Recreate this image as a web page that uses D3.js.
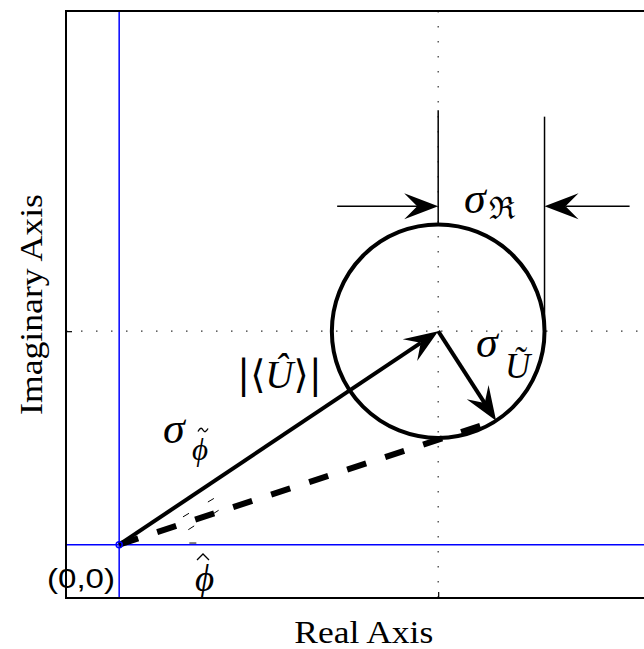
<!DOCTYPE html>
<html><head><meta charset="utf-8">
<script src="https://cdn.jsdelivr.net/npm/d3@7"></script>
<style>body{margin:0;background:#fff}</style>
</head><body>
<svg id="c" width="644" height="649"></svg>
<script>
// ---- data (in axis units) ----
const xDomain = [-0.5, 5.1];
const yDomain = [-0.5, 5];
const xTicks = [3];
const yTicks = [2];
const origin = [0, 0];
const meanU = [3, 2];
const sigmaRadius = 1;
const sigmaAngleDeg = -57;
const refLineX = [3, 4];
const refLineTop = [4.07, 4.01];
const refLineBottom = [3.0, 2.0];
const dimArrowY = 3.17;
const dimArrowFrom = [2.05, 4.8];
const dimArrowTo = [3, 4];
const guideLines = [
  [[0.60, 0.26], [0.97, 0.48]],
  [[0.65, 0.14], [0.995, 0.36]],
  [[0.66, 0.015], [0.74, 0.015]]
];
const xLabel = "Real Axis";
const yLabel = "Imaginary Axis";
const originLabel = "(0,0)";

// ---- scales ----
const L = 66, R = 661.5, T = 11, B = 598;
const x = d3.scaleLinear().domain(xDomain).range([L, R]);
const y = d3.scaleLinear().domain(yDomain).range([B, T]);
const P = p => [x(p[0]), y(p[1])];

const svg = d3.select("#c");
const serif = "'Liberation Serif','DejaVu Serif',serif";
const dserif = "'DejaVu Serif',serif";

svg.append("defs").append("clipPath").attr("id", "clip")
  .append("rect").attr("x", L).attr("y", T).attr("width", R - L).attr("height", B - T);
const g = svg.append("g").attr("clip-path", "url(#clip)");

// dotted grid
g.selectAll(".gx").data(xTicks).join("line")
  .attr("x1", d => x(d)).attr("x2", d => x(d)).attr("y1", T).attr("y2", B)
  .attr("stroke", "#333").attr("stroke-width", 1.2).attr("stroke-dasharray", "1.5,13.5");
g.selectAll(".gy").data(yTicks).join("line")
  .attr("y1", d => y(d)).attr("y2", d => y(d)).attr("x1", L).attr("x2", R)
  .attr("stroke", "#333").attr("stroke-width", 1.2).attr("stroke-dasharray", "1.5,13.5");

// blue axes through origin
g.append("line").attr("x1", x(origin[0])).attr("x2", x(origin[0])).attr("y1", T).attr("y2", B)
  .attr("stroke", "#0000ff").attr("stroke-width", 1.5);
g.append("line").attr("y1", y(origin[1])).attr("y2", y(origin[1])).attr("x1", L).attr("x2", R)
  .attr("stroke", "#0000ff").attr("stroke-width", 1.5);

// ticks via axes
svg.append("g").attr("transform", `translate(0,${B})`)
  .call(d3.axisBottom(x).tickValues(xTicks).tickSize(-6).tickFormat(""))
  .call(a => a.select(".domain").remove())
  .selectAll("line").attr("stroke", "#000").attr("stroke-width", 1.2);
svg.append("g").attr("transform", `translate(${L},0)`)
  .call(d3.axisLeft(y).tickValues(yTicks).tickSize(-6).tickFormat(""))
  .call(a => a.select(".domain").remove())
  .selectAll("line").attr("stroke", "#000").attr("stroke-width", 1.2);

// frame
svg.append("path").attr("d", `M${R},${T}H${L}V${B}H${R}`)
  .attr("fill", "none").attr("stroke", "#000").attr("stroke-width", 2);

// thin guide dashes
guideLines.forEach(l => {
  g.append("line").attr("x1", x(l[0][0])).attr("y1", y(l[0][1]))
    .attr("x2", x(l[1][0])).attr("y2", y(l[1][1]))
    .attr("stroke", "#000").attr("stroke-width", 1).attr("stroke-dasharray", "7,22");
});

// circle
const rx = x(meanU[0] + sigmaRadius) - x(meanU[0]);
const ry = y(meanU[1]) - y(meanU[1] + sigmaRadius);
g.append("ellipse").attr("cx", x(meanU[0])).attr("cy", y(meanU[1]))
  .attr("rx", rx).attr("ry", ry).attr("fill", "none").attr("stroke", "#000").attr("stroke-width", 4);

// reference vertical lines
refLineX.forEach((v, i) => {
  g.append("line").attr("x1", x(v)).attr("x2", x(v)).attr("y1", y(refLineTop[i])).attr("y2", y(refLineBottom[i]))
    .attr("stroke", "#000").attr("stroke-width", 1.5);
});

function arrow(p0, p1, lw, Lh = 34, W = 13, N = 21) {
  const dx = p1[0] - p0[0], dy = p1[1] - p0[1], len = Math.hypot(dx, dy);
  const ux = dx / len, uy = dy / len, nx = -uy, ny = ux;
  const notch = [p1[0] - ux * N, p1[1] - uy * N];
  g.append("line").attr("x1", p0[0]).attr("y1", p0[1]).attr("x2", notch[0]).attr("y2", notch[1])
    .attr("stroke", "#000").attr("stroke-width", lw);
  const pts = [p1, [p1[0] - ux * Lh + nx * W, p1[1] - uy * Lh + ny * W], notch,
               [p1[0] - ux * Lh - nx * W, p1[1] - uy * Lh - ny * W]];
  g.append("path").attr("d", "M" + pts.map(p => p.join(",")).join("L") + "Z").attr("fill", "#000");
}

// sigma point on circle
const a = sigmaAngleDeg * Math.PI / 180;
const sigPt = [meanU[0] + sigmaRadius * Math.cos(a), meanU[1] + sigmaRadius * Math.sin(a)];

// dashed thick line origin -> sigma point
g.append("line").attr("x1", x(origin[0])).attr("y1", y(origin[1])).attr("x2", x(sigPt[0])).attr("y2", y(sigPt[1]))
  .attr("stroke", "#000").attr("stroke-width", 6).attr("stroke-dasharray", "20,20");

// main arrows
arrow(P(origin), P(meanU), 4);
arrow(P(meanU), P(sigPt), 4);

// dimension arrows
dimArrowFrom.forEach((v, i) => arrow(P([v, dimArrowY]), P([dimArrowTo[i], dimArrowY]), 1.5));

// origin marker
svg.append("circle").attr("cx", x(origin[0])).attr("cy", y(origin[1])).attr("r", 3)
  .attr("fill", "none").attr("stroke", "#0000ff").attr("stroke-width", 1.5);

// ---- texts ----
function txt(s, px, py, size, opts = {}) {
  const t = svg.append("text").attr("x", px).attr("y", py).attr("font-size", size)
    .attr("font-family", opts.family || serif).text(s);
  if (opts.italic) t.attr("font-style", "italic");
  if (opts.anchor) t.attr("text-anchor", opts.anchor);
  if (opts.len) t.attr("textLength", opts.len).attr("lengthAdjust", "spacingAndGlyphs");
  return t;
}
// accent marks drawn as small strokes above a glyph
function tilde(cx, cy, w) {
  svg.append("path")
    .attr("d", `M${cx - w / 2},${cy + 1.5} C${cx - w / 4},${cy - 3} ${cx - w / 8},${cy - 2} ${cx},${cy} S${cx + w / 4},${cy + 3} ${cx + w / 2},${cy - 1.5}`)
    .attr("fill", "none").attr("stroke", "#000").attr("stroke-width", 1.4);
}
function hat(cx, cy, w) {
  svg.append("path").attr("d", `M${cx - w / 2},${cy + w / 3}L${cx},${cy - w / 6}L${cx + w / 2},${cy + w / 3}`)
    .attr("fill", "none").attr("stroke", "#000").attr("stroke-width", 1.3);
}
// sigma_R
txt("σ", 464, 213, 44, {italic: true});
txt("ℜ", 489, 219, 31, {family: dserif});
// sigma_U~
txt("σ", 476, 357, 44, {italic: true});
txt("Ũ", 505, 378, 35, {italic: true});
// |<U^>|
const ut = svg.append("text").attr("x", 237).attr("y", 388).attr("font-size", 39).attr("font-family", serif);
ut.append("tspan").attr("font-family", dserif).text("|⟨");
ut.append("tspan").attr("font-style", "italic").text("Û");
ut.append("tspan").attr("font-family", dserif).text("⟩|");
// sigma_phi~
txt("σ", 163, 443, 44, {italic: true});
txt("ϕ", 192, 460, 31, {italic: true});
tilde(203, 430, 10);
// phi hat
txt("ϕ", 195, 591, 37, {italic: true});
hat(203, 556, 12);
// origin label
txt(originLabel, 47, 588, 28, {family: "'Liberation Sans',Arial,sans-serif", len: 68});
// axis labels
txt(xLabel, (L + R) / 2, 643, 31, {anchor: "middle", len: 139});
svg.append("text").attr("transform", `translate(42,${(T + B) / 2}) rotate(-90)`)
  .attr("text-anchor", "middle").attr("font-size", 31).attr("font-family", serif)
  .attr("textLength", 221).attr("lengthAdjust", "spacingAndGlyphs").text(yLabel);
</script>
</body></html>
